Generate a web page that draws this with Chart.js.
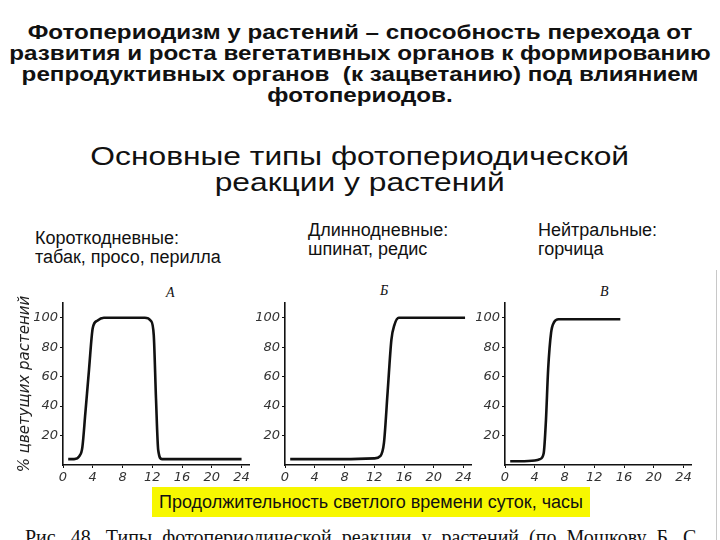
<!DOCTYPE html>
<html>
<head>
<meta charset="utf-8">
<script src="https://cdn.jsdelivr.net/npm/chart.js@4"></script>
<style>
  body { margin: 0; width: 720px; height: 540px; overflow: hidden; background: #fff; position: relative; font-family: "Liberation Sans", Arial, sans-serif; color: #111; }
  .abs { position: absolute; }
  #head { left: 0; top: 22px; width: 720px; text-align: center; font-weight: bold; font-size: 20px; line-height: 21px; transform: scaleX(1.21); transform-origin: 360px 0; }
  #sub { left: 0; top: 143px; width: 720px; text-align: center; font-size: 25px; line-height: 26px; transform: scaleX(1.27); transform-origin: 361px 0; }
  .cat { font-size: 18px; line-height: 19px; }
  .letter { font-family: "Liberation Serif", serif; font-style: italic; font-size: 14px; }
  #xlab { left: 152px; top: 487px; width: 438px; height: 30px; background: #f7f700; text-align: center; font-size: 18px; line-height: 30px; }
  #cap { left: 25px; top: 526px; font-family: "Liberation Serif", serif; font-size: 20px; word-spacing: 5px; white-space: nowrap; }
  #edge { left: 716px; top: 270px; width: 1px; height: 270px; background: #c8c8c8; }
  canvas { position: absolute; }
</style>
</head>
<body>
<div id="head" class="abs">Фотопериодизм у растений – способность перехода от<br>развития и роста вегетативных органов к формированию<br>репродуктивных органов&nbsp; (к зацветанию) под влиянием<br>фотопериодов.</div>
<div id="sub" class="abs">Основные типы фотопериодической<br>реакции у растений</div>
<div class="abs cat" style="left:35px; top:229px;">Короткодневные:<br>табак, просо, перилла</div>
<div class="abs cat" style="left:308px; top:221px;">Длиннодневные:<br>шпинат, редис</div>
<div class="abs cat" style="left:538px; top:221px;">Нейтральные:<br>горчица</div>
<div class="abs letter" style="left:166px; top:285px;">А</div>
<div class="abs letter" style="left:380px; top:283px;">Б</div>
<div class="abs letter" style="left:600px; top:284px;">В</div>

<canvas id="chartA" width="258" height="200" style="left:0; top:290px;"></canvas>
<canvas id="chartB" width="258" height="200" style="left:222px; top:290px;"></canvas>
<canvas id="chartC" width="258" height="200" style="left:442px; top:290px;"></canvas>

<div id="xlab" class="abs">Продолжительность светлого времени суток, часы</div>
<div id="cap" class="abs">Рис. 48. Типы фотопериодической реакции у растений (по Мошкову Б. С.</div>
<div id="edge" class="abs"></div>

<script>
// длина дня, часы
const xTicks = [0, 4, 8, 12, 16, 20, 24];
const yTicks = [20, 40, 60, 80, 100];

// А — короткодневные
const hoursA = [0.7, 1.5, 2.2, 2.6, 3.0, 3.5, 4.0, 4.6, 5.5, 8, 11, 11.8, 12.2, 12.5, 12.8, 13.3, 15, 20, 24];
const flowA  = [4, 4, 6, 12, 35, 65, 93, 98, 100, 100, 100, 98, 88, 45, 10, 4, 4, 4, 4];

// Б — длиннодневные
const hoursB = [0.7, 4, 8, 12, 12.8, 13.3, 13.8, 14.3, 14.7, 15.3, 17, 20, 24.2];
const flowB  = [4, 4, 4, 4.5, 6, 15, 50, 85, 95, 100, 100, 100, 100];

// В — нейтральные
const hoursC = [0.7, 2, 4, 4.7, 5.2, 5.5, 5.8, 6.2, 6.6, 7.2, 10, 15.5];
const flowC  = [2.5, 2.5, 3, 4, 8, 30, 65, 90, 97, 99, 99, 99];

const tickFont = { family: 'DejaVu Sans', style: 'italic', size: 13 };

function makeChart(id, hours, flow, withTitle) {
    const ctx = document.getElementById(id).getContext('2d');
    return new Chart(ctx, {
        type: 'line',
        data: {
            datasets: [{
                data: hours.map((h, i) => ({ x: h, y: flow[i] })),
                borderColor: '#111',
                borderWidth: 2.6,
                pointRadius: 0,
                fill: false,
                cubicInterpolationMode: 'monotone'
            }]
        },
        options: {
            responsive: false,
            animation: false,
            layout: { padding: { top: 13, right: 9, left: 0, bottom: 0 } },
            plugins: { legend: { display: false }, tooltip: { enabled: false } },
            scales: {
                x: {
                    type: 'linear', min: 0, max: 25,
                    border: { color: '#111', width: 1.6 },
                    grid: { drawOnChartArea: false, tickLength: 3, color: '#111' },
                    ticks: {
                        stepSize: 4, includeBounds: false, autoSkip: false, maxRotation: 0, padding: 2,
                        color: '#333', font: tickFont,
                        callback: v => xTicks.includes(v) ? String(v) : ''
                    },
                    afterFit: s => { s.height = 25; }
                },
                y: {
                    min: 0, max: 110,
                    border: { color: '#111', width: 1.6 },
                    grid: {
                        drawOnChartArea: false, tickLength: 3,
                        color: c => yTicks.includes(c.tick.value) ? '#111' : 'rgba(0,0,0,0)'
                    },
                    ticks: {
                        stepSize: 20, includeBounds: false, padding: 2, color: '#333', font: tickFont,
                        callback: v => yTicks.includes(v) ? String(v) : ''
                    },
                    title: {
                        display: withTitle, text: '% цветущих растений', color: '#222',
                        font: { family: 'DejaVu Sans', style: 'italic', size: 15 },
                        padding: { top: 16, bottom: 0 }
                    },
                    afterFit: s => { s.width = 63; }
                }
            }
        }
    });
}

makeChart('chartA', hoursA, flowA, true);
makeChart('chartB', hoursB, flowB, false);
makeChart('chartC', hoursC, flowC, false);
</script>
</body>
</html>
